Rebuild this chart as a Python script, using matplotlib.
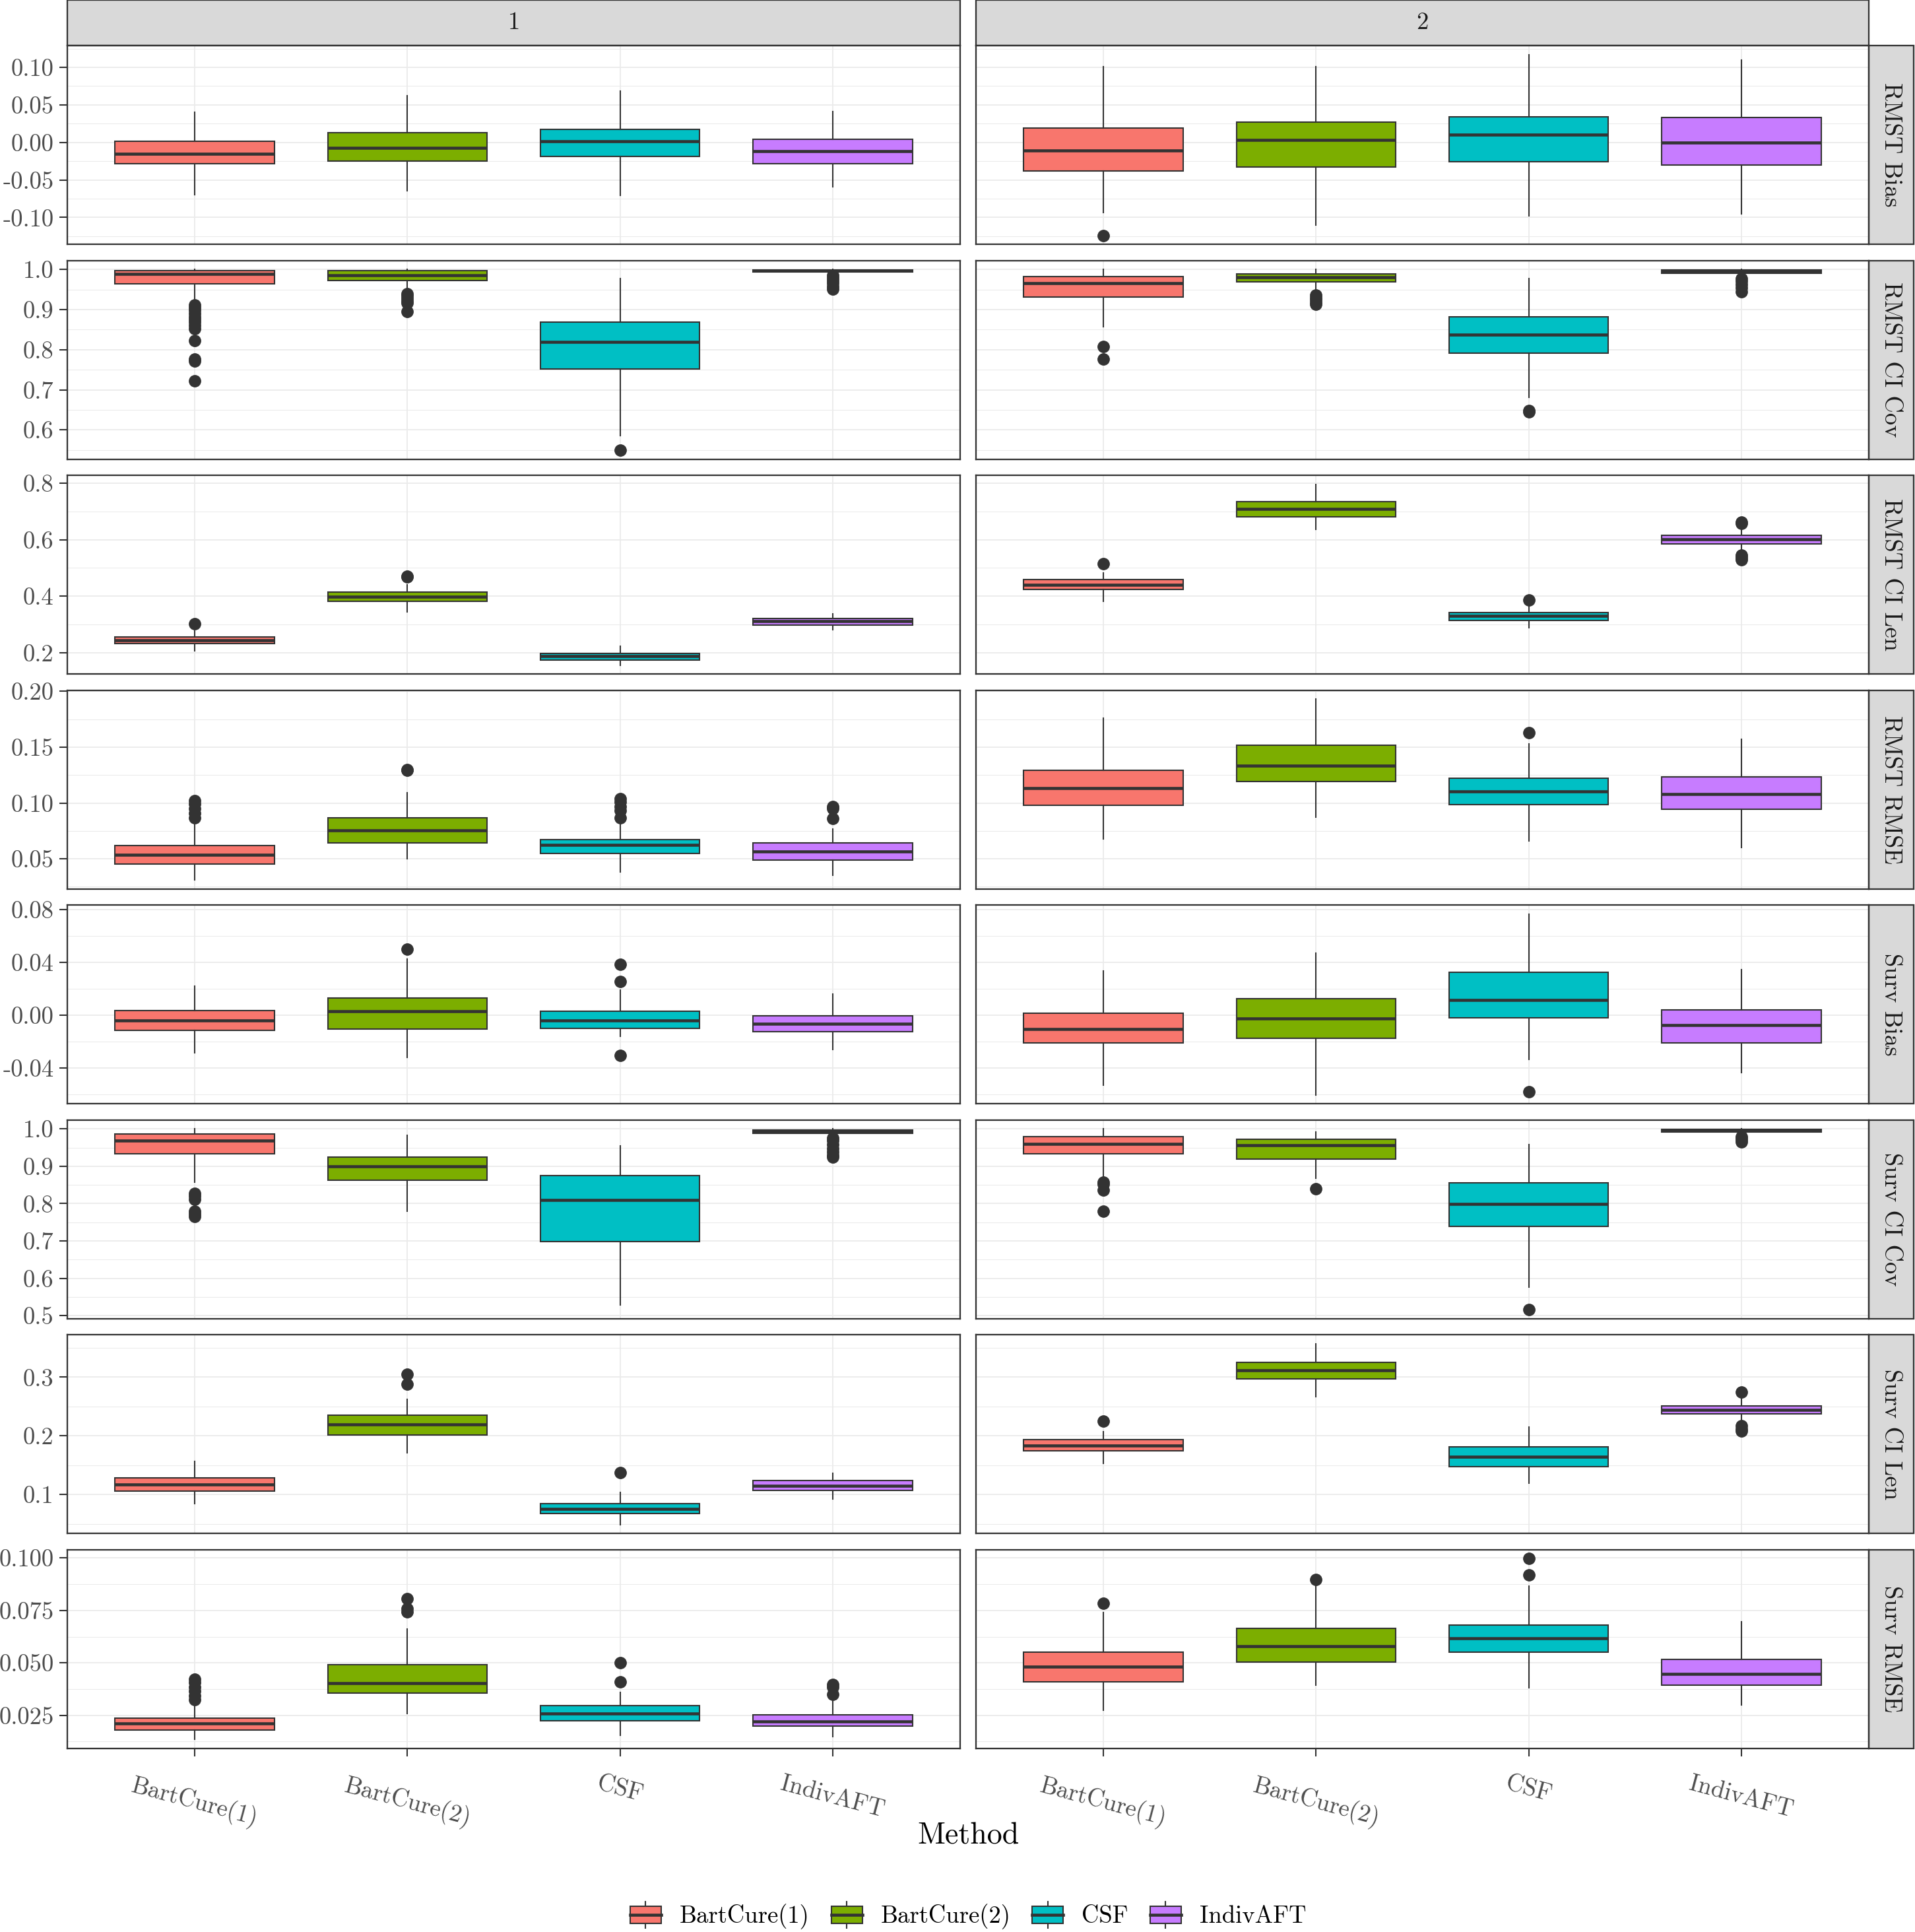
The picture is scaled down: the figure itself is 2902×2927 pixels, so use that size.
import matplotlib
matplotlib.use('Agg')
import matplotlib.pyplot as plt
from matplotlib.patches import Rectangle, Patch
from matplotlib.lines import Line2D
from matplotlib.legend_handler import HandlerBase
from matplotlib.ticker import FixedLocator

plt.rcParams['font.family'] = 'cmr10'
plt.rcParams['mathtext.fontset'] = 'cm'
plt.rcParams['axes.formatter.use_mathtext'] = True

# ---- data: five-number summaries [lo, q1, med, q3, hi] per method, per scenario ----
methods = ['BartCure(1)', 'BartCure(2)', 'CSF', 'IndivAFT']
scenarios = ['1', '2']
metrics = ['RMST Bias', 'RMST CI Cov', 'RMST CI Len', 'RMST RMSE',
           'Surv Bias', 'Surv CI Cov', 'Surv CI Len', 'Surv RMSE']
colors = ['#F8766D', '#7CAE00', '#00BFC4', '#C77CFF']

rmst_bias = [
    [[-0.070, -0.028, -0.015, 0.0015, 0.040], [-0.064, -0.025, -0.007, 0.013, 0.062],
     [-0.071, -0.019, 0.0014, 0.0174, 0.068], [-0.059, -0.028, -0.012, 0.0043, 0.041]],
    [[-0.093, -0.038, -0.011, 0.019, 0.101], [-0.110, -0.033, 0.003, 0.027, 0.101],
     [-0.098, -0.026, 0.010, 0.034, 0.117], [-0.095, -0.030, 0.000, 0.033, 0.110]],
]
rmst_bias_out = [[[], [], [], []], [[-0.124], [], [], []]]

rmst_cov = [
    [[0.915, 0.9635, 0.989, 0.997, 1.0], [0.951, 0.973, 0.985, 0.997, 1.0],
     [0.585, 0.7514, 0.820, 0.869, 0.978], [0.992, 0.994, 0.997, 0.999, 1.0]],
    [[0.857, 0.931, 0.965, 0.982, 1.0], [0.945, 0.969, 0.981, 0.989, 1.0],
     [0.681, 0.792, 0.838, 0.882, 0.978], [0.989, 0.991, 0.995, 0.999, 1.0]],
]
rmst_cov_out = [
    [[0.911, 0.905, 0.898, 0.89, 0.882, 0.875, 0.868, 0.86, 0.853, 0.822, 0.777, 0.772, 0.722],
     [0.940, 0.934, 0.928, 0.922, 0.916, 0.895], [0.549],
     [0.985, 0.979, 0.972, 0.966, 0.958, 0.951]],
    [[0.807, 0.777], [0.936, 0.930, 0.924, 0.918, 0.913], [0.649, 0.645],
     [0.978, 0.97, 0.962, 0.955, 0.945]],
]

rmst_len = [
    [[0.208, 0.2325, 0.244, 0.2554, 0.278], [0.345, 0.381, 0.398, 0.415, 0.44],
     [0.156, 0.175, 0.187, 0.198, 0.223], [0.282, 0.297, 0.311, 0.322, 0.3375]],
    [[0.381, 0.4235, 0.441, 0.458, 0.483], [0.636, 0.681, 0.708, 0.735, 0.796],
     [0.288, 0.315, 0.330, 0.343, 0.364], [0.565, 0.586, 0.601, 0.6145, 0.647]],
]
rmst_len_out = [
    [[0.303], [0.471, 0.468], [], []],
    [[0.515], [], [0.387], [0.662, 0.658, 0.545, 0.54, 0.533, 0.528]],
]

rmst_rmse = [
    [[0.031, 0.0455, 0.0539, 0.0621, 0.083], [0.050, 0.0645, 0.0756, 0.0867, 0.109],
     [0.0384, 0.0548, 0.0626, 0.0674, 0.0816], [0.0355, 0.049, 0.0563, 0.064, 0.0768]],
    [[0.0676, 0.0977, 0.1132, 0.129, 0.1759], [0.0874, 0.119, 0.1333, 0.1515, 0.193],
     [0.0662, 0.0986, 0.1104, 0.1223, 0.153], [0.0604, 0.0947, 0.108, 0.1232, 0.157]],
]
rmst_rmse_out = [
    [[0.102, 0.099, 0.095, 0.091, 0.087], [0.130, 0.129],
     [0.104, 0.101, 0.097, 0.093, 0.0865], [0.097, 0.095, 0.0859]],
    [[], [], [0.163], []],
]

surv_bias = [
    [[-0.0285, -0.0115, -0.0041, 0.0037, 0.0219], [-0.0318, -0.0103, 0.0029, 0.0132, 0.0425],
     [-0.016, -0.0099, -0.0041, 0.0033, 0.019], [-0.0256, -0.0124, -0.0062, -0.0004, 0.0161]],
    [[-0.0528, -0.021, -0.0103, 0.0016, 0.0334], [-0.0602, -0.0173, -0.0025, 0.0128, 0.047],
     [-0.0334, -0.0021, 0.0115, 0.0326, 0.0767], [-0.0433, -0.021, -0.0074, 0.0041, 0.0346]],
]
surv_bias_out = [[[], [0.0503], [0.0384, 0.0256, -0.0301], []], [[], [], [-0.0577], []]]

surv_cov = [
    [[0.858, 0.934, 0.968, 0.987, 1.0], [0.78, 0.862, 0.9, 0.925, 0.982],
     [0.529, 0.699, 0.809, 0.875, 0.955], [0.985, 0.988, 0.993, 0.997, 1.0]],
    [[0.87, 0.934, 0.959, 0.98, 1.0], [0.868, 0.919, 0.956, 0.972, 0.991],
     [0.576, 0.739, 0.799, 0.855, 0.958], [0.99, 0.992, 0.995, 0.998, 1.0]],
]
surv_cov_out = [
    [[0.828, 0.82, 0.812, 0.78, 0.772, 0.765], [], [],
     [0.975, 0.968, 0.958, 0.948, 0.938, 0.93, 0.924]],
    [[0.858, 0.852, 0.836, 0.78], [0.839], [0.516], [0.98, 0.975, 0.97, 0.965]],
]

surv_len = [
    [[0.085, 0.1056, 0.117, 0.128, 0.157], [0.171, 0.201, 0.2195, 0.235, 0.262],
     [0.0488, 0.0674, 0.075, 0.085, 0.104], [0.0926, 0.1065, 0.115, 0.1235, 0.136]],
    [[0.1526, 0.174, 0.1833, 0.1935, 0.2074], [0.267, 0.2967, 0.3116, 0.3256, 0.357],
     [0.119, 0.148, 0.1647, 0.181, 0.215], [0.226, 0.237, 0.2447, 0.251, 0.266]],
]
surv_len_out = [
    [[], [0.305, 0.288], [0.137], []],
    [[0.225], [], [], [0.275, 0.217, 0.212, 0.208]],
]

surv_rmse = [
    [[0.0135, 0.018, 0.0211, 0.0237, 0.031], [0.026, 0.0355, 0.0402, 0.0492, 0.066],
     [0.0156, 0.0224, 0.026, 0.0297, 0.036], [0.015, 0.0198, 0.0222, 0.0253, 0.0326]],
    [[0.0274, 0.0409, 0.0482, 0.055, 0.074], [0.0393, 0.0505, 0.0578, 0.0664, 0.087],
     [0.038, 0.0552, 0.0617, 0.068, 0.0865], [0.030, 0.0393, 0.0448, 0.0518, 0.0695]],
]
surv_rmse_out = [
    [[0.0423, 0.0405, 0.0385, 0.0365, 0.0345, 0.0325], [0.0806, 0.076, 0.0744],
     [0.0502, 0.041], [0.0397, 0.0385, 0.035]],
    [[0.0784], [0.0898], [0.0997, 0.0919], []],
]

# y ticks per row
yticks = [
    [-0.10, -0.05, 0.00, 0.05, 0.10],
    [0.6, 0.7, 0.8, 0.9, 1.0],
    [0.2, 0.4, 0.6, 0.8],
    [0.05, 0.10, 0.15, 0.20],
    [-0.04, 0.00, 0.04, 0.08],
    [0.5, 0.6, 0.7, 0.8, 0.9, 1.0],
    [0.1, 0.2, 0.3],
    [0.025, 0.050, 0.075, 0.100],
]
ylabels = [
    ['-0.10', '-0.05', '0.00', '0.05', '0.10'],
    ['0.6', '0.7', '0.8', '0.9', '1.0'],
    ['0.2', '0.4', '0.6', '0.8'],
    ['0.05', '0.10', '0.15', '0.20'],
    ['-0.04', '0.00', '0.04', '0.08'],
    ['0.5', '0.6', '0.7', '0.8', '0.9', '1.0'],
    ['0.1', '0.2', '0.3'],
    ['0.025', '0.050', '0.075', '0.100'],
]

summaries = [rmst_bias, rmst_cov, rmst_len, rmst_rmse, surv_bias, surv_cov, surv_len, surv_rmse]
outliers = [rmst_bias_out, rmst_cov_out, rmst_len_out, rmst_rmse_out,
            surv_bias_out, surv_cov_out, surv_len_out, surv_rmse_out]

# ---- styling ----
W, H, DPI = 2902, 2927, 300
EDGE = '#333333'
GRID = '#EBEBEB'
STRIP = '#D9D9D9'
FS = 8.8

# panel geometry in pixels
px_left, px_right = 102, 2832
px_top, px_bottom = 69, 2649
panel_h = 301
gap = 24
panel_w = (px_right - px_left - gap) / 2

fig = plt.figure(figsize=(W / DPI, H / DPI), dpi=DPI)
gs = fig.add_gridspec(8, 2, left=px_left / W, right=px_right / W,
                      top=1 - px_top / H, bottom=1 - px_bottom / H,
                      hspace=gap / panel_h, wspace=gap / panel_w)

for r, metric in enumerate(metrics):
    first = None
    for c, scen in enumerate(scenarios):
        ax = fig.add_subplot(gs[r, c], sharey=first)
        if first is None:
            first = ax
        stats = []
        for m in range(len(methods)):
            lo, q1, med, q3, hi = summaries[r][c][m]
            stats.append(dict(whislo=lo, q1=q1, med=med, q3=q3, whishi=hi,
                              fliers=outliers[r][c][m], label=methods[m]))
        bp = ax.bxp(stats, positions=[1, 2, 3, 4], widths=0.75, patch_artist=True,
                    showcaps=False,
                    boxprops=dict(edgecolor=EDGE, linewidth=0.5),
                    medianprops=dict(color=EDGE, linewidth=1.1, solid_capstyle='butt'),
                    whiskerprops=dict(color=EDGE, linewidth=0.5),
                    flierprops=dict(marker='o', markerfacecolor=EDGE, markeredgecolor=EDGE,
                                    markersize=4.2, markeredgewidth=0.3))
        for patch, col in zip(bp['boxes'], colors):
            patch.set_facecolor(col)

        ax.set_xlim(0.4, 4.6)
        ax.set_xticks([1, 2, 3, 4])
        ax.set_axisbelow(True)
        ax.grid(True, which='major', color=GRID, linewidth=0.45)
        ax.grid(True, which='minor', axis='y', color=GRID, linewidth=0.25)
        for s in ax.spines.values():
            s.set_color(EDGE)
            s.set_linewidth(0.55)

        ax.tick_params(axis='both', which='major', color=EDGE, width=0.5, length=2.9,
                       labelsize=FS, labelcolor='#4D4D4D', pad=2)
        ax.tick_params(axis='y', which='minor', length=0)

        if c == 0:
            ticks = yticks[r]
            step = ticks[1] - ticks[0]
            minor = [ticks[0] - step / 2] + [t + step / 2 for t in ticks]
            ax.set_yticks(ticks)
            ax.set_yticklabels(ylabels[r])
            ax.yaxis.set_minor_locator(FixedLocator(minor))
        else:
            ax.tick_params(axis='y', length=0, labelleft=False)

        if r == len(metrics) - 1:
            ax.set_xticklabels(methods, rotation=-15, ha='center', va='top')
            ax.tick_params(axis='x', pad=6)
        else:
            ax.tick_params(axis='x', length=0, labelbottom=False)

        # strips
        if r == 0:
            sh = px_top / panel_h
            ax.add_patch(Rectangle((0, 1), 1, sh, transform=ax.transAxes, clip_on=False,
                                   facecolor=STRIP, edgecolor=EDGE, linewidth=0.55))
            ax.text(0.5, 1 + sh / 2, scen, transform=ax.transAxes, ha='center',
                    va='center', fontsize=FS, color='#1A1A1A')
        if c == 1:
            sw = 68 / panel_w
            ax.add_patch(Rectangle((1, 0), sw, 1, transform=ax.transAxes, clip_on=False,
                                   facecolor=STRIP, edgecolor=EDGE, linewidth=0.55))
            ax.text(1 + sw / 2, 0.5, metric, transform=ax.transAxes, ha='center',
                    va='center', rotation=-90, fontsize=FS, color='#1A1A1A')


class BoxKey(HandlerBase):
    def create_artists(self, legend, orig_handle, xdescent, ydescent, width, height,
                       fontsize, trans):
        x0, y0 = -xdescent, -ydescent
        cx = x0 + width / 2
        b0, b1 = y0 + 0.18 * height, y0 + 0.82 * height
        rect = Rectangle((x0, b0), width, b1 - b0, facecolor=orig_handle.get_facecolor(),
                         edgecolor=EDGE, linewidth=0.5, transform=trans)
        med = Line2D([x0, x0 + width], [(b0 + b1) / 2] * 2, color=EDGE, linewidth=1.1,
                     transform=trans)
        w1 = Line2D([cx, cx], [y0, b0], color=EDGE, linewidth=0.5, transform=trans)
        w2 = Line2D([cx, cx], [b1, y0 + height], color=EDGE, linewidth=0.5, transform=trans)
        return [w1, w2, rect, med]


center_x = (px_left + px_right) / 2 / W
fig.text(center_x, 1 - 2782 / H, 'Method', ha='center', va='center', fontsize=11)

handles = [Patch(facecolor=col) for col in colors]
fig.legend(handles, methods, handler_map={Patch: BoxKey()}, ncol=4, loc='center',
           bbox_to_anchor=(center_x, 1 - 2902 / H), frameon=False, fontsize=FS,
           handlelength=1.28, handleheight=1.31, handletextpad=0.76, columnspacing=0.9,
           borderpad=0, borderaxespad=0)

fig.savefig('out.png', dpi=DPI)
